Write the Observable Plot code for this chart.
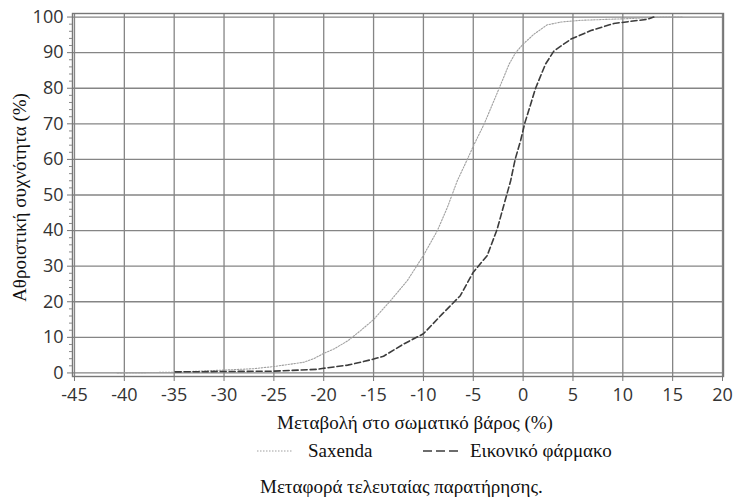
<!DOCTYPE html>
<html><head><meta charset="utf-8">
<script src="https://cdn.jsdelivr.net/npm/d3@7"></script>
<script src="https://cdn.jsdelivr.net/npm/@observablehq/plot@0.6"></script>
<style>body{margin:0;background:#fff} #chart{width:733px;height:500px}
svg text.serif{font-family:"Liberation Serif","DejaVu Serif","Open Sans",sans-serif !important;}</style>
</head><body><div id="chart"></div>
<script>
// Cumulative frequency (%) vs. change in body weight (%)
const saxendaX = [-40.7, -35, -30, -27, -25, -22, -21, -20, -19, -17.6, -16.3, -15, -13.3, -11.6, -10, -8.6, -7.6, -6.6, -5.6, -4.9, -3.9, -2.4, -1.4, -0.75, 0, 1.1, 2.4, 3.8, 5.8, 10, 14, 16];
const saxendaY = [0, 0.2, 0.8, 1.2, 1.8, 3.0, 4.0, 5.5, 6.7, 9, 11.9, 15, 20.3, 26, 33, 40, 46.5, 54, 60, 64.3, 70, 80, 86.8, 90, 92.4, 95.2, 97.8, 98.6, 99.1, 99.5, 100, 100];
const placeboX = [-34.9, -30, -25, -20.7, -20, -17.6, -16.3, -15, -14, -12, -10, -8.1, -6.3, -5, -3.6, -2.6, -1.9, -1.25, -0.8, -0.25, 0.15, 1.25, 2.25, 3.1, 4.8, 6.8, 9.1, 12.5, 13.1];
const placeboY = [0.3, 0.4, 0.5, 1.0, 1.3, 2.2, 3, 3.9, 4.7, 8.1, 11, 16.6, 21.7, 28.3, 33, 40.4, 47.5, 54, 60, 65.3, 70, 80, 86.8, 90.5, 93.8, 96.2, 98.2, 99.4, 100];

const xTicks = [-45, -40, -35, -30, -25, -20, -15, -10, -5, 0, 5, 10, 15, 20];
const yTicks = [0, 10, 20, 30, 40, 50, 60, 70, 80, 90, 100];
const yMinorTicks = [2, 4, 6, 8, 12, 14, 16, 18, 22, 24, 26, 28, 32, 34, 36, 38, 42, 44, 46, 48, 52, 54, 56, 58, 62, 64, 66, 68, 72, 74, 76, 78, 82, 84, 86, 88, 92, 94, 96, 98];

const seriesNames = ["Saxenda", "Εικονικό φάρμακο"];
const xLabel = "Μεταβολή στο σωματικό βάρος (%)";
const yLabel = "Αθροιστική συχνότητα (%)";
const captionText = "Μεταφορά τελευταίας παρατήρησης.";

const saxenda = saxendaX.map((x, i) => ({x, y: saxendaY[i]}));
const placebo = placeboX.map((x, i) => ({x, y: placeboY[i]}));

const gridColor = "#858585";
const fmt = d => String(d);
const plot = Plot.plot({
  width: 733, height: 500,
  marginLeft: 72, marginRight: 10, marginTop: 13, marginBottom: 124,
  style: {fontFamily: "'Open Sans', sans-serif", fontSize: "18px", color: "#333", background: "#fff"},
  x: {domain: [-45.2, 20.1], label: null},
  y: {domain: [-1, 101], label: null},
  marks: [
    Plot.gridX(xTicks, {stroke: gridColor, strokeOpacity: 1, strokeWidth: 1.3}),
    Plot.gridY(yTicks, {stroke: gridColor, strokeOpacity: 1, strokeWidth: 1.3}),
    Plot.frame({stroke: "#777", strokeWidth: 1.4}),
    Plot.axisX(xTicks, {tickSize: 5, tickPadding: 7, stroke: "#777", fill: "#333", fontSize: 18, tickFormat: fmt, label: null}),
    Plot.axisY(yTicks, {tickSize: 5, tickPadding: 4, stroke: "#777", fill: "#333", fontSize: 18, tickFormat: fmt, label: null}),
    Plot.axisY(yMinorTicks, {tickSize: 3, stroke: "#888", tickFormat: () => "", label: null}),
    Plot.line(saxenda, {x: "x", y: "y", stroke: "#a0a0a0", strokeWidth: 1.1, strokeDasharray: "1.5,1.5"}),
    Plot.line(placebo, {x: "x", y: "y", stroke: "#3c3c3c", strokeWidth: 1.6, strokeDasharray: "6,3"})
  ]
});

const svg = d3.select(plot);
function addText(str, x, y, opts = {}) {
  const t = svg.append("text").attr("class", "serif").attr("x", x).attr("y", y)
    .style("font-size", "19px").style("fill", "#111")
    .style("text-anchor", opts.rotate ? "middle" : "start").text(str);
  if (opts.rotate) t.attr("transform", `rotate(-90 ${x} ${y})`);
  return t;
}
addText(yLabel, 26, 197.5, {rotate: true});
addText(xLabel, 277, 429);
// legend
svg.append("line").attr("x1", 257).attr("x2", 293).attr("y1", 451).attr("y2", 451)
  .attr("stroke", "#a0a0a0").attr("stroke-width", 1.1).attr("stroke-dasharray", "1.5,1.5");
addText(seriesNames[0], 308, 457);
svg.append("line").attr("x1", 423).attr("x2", 458).attr("y1", 451).attr("y2", 451)
  .attr("stroke", "#3c3c3c").attr("stroke-width", 1.4).attr("stroke-dasharray", "9,4");
addText(seriesNames[1], 470, 457);
addText(captionText, 260, 493);

document.getElementById("chart").appendChild(plot);
</script>
</body></html>
